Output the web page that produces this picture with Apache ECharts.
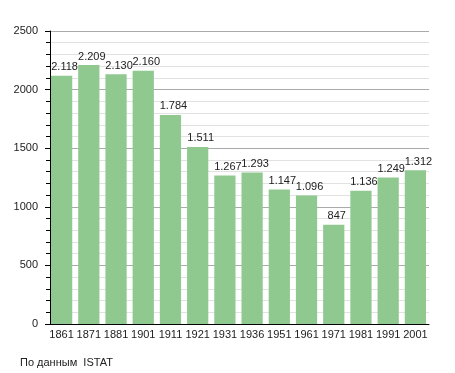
<!DOCTYPE html>
<html>
<head>
<meta charset="utf-8">
<script src="https://cdn.jsdelivr.net/npm/echarts@6/dist/echarts.min.js"></script>
<style>html,body{margin:0;padding:0;background:#fff;}#c{width:455px;height:373px;}</style>
</head>
<body>
<div id="c"></div>
<script>
const years = ['1861','1871','1881','1901','1911','1921','1931','1936','1951','1961','1971','1981','1991','2001'];
const population = [2118, 2209, 2130, 2160, 1784, 1511, 1267, 1293, 1147, 1096, 847, 1136, 1249, 1312];
const yTicks = [0, 500, 1000, 1500, 2000, 2500];
const sourceText = 'По данным  ISTAT';

function fmt(v){ return String(v).replace(/\B(?=(\d{3})+(?!\d))/g, '.'); }

const chart = echarts.init(document.getElementById('c'), null, {renderer:'canvas'});
chart.setOption({
  animation: false,
  textStyle: {fontFamily: 'Liberation Sans, Arial, sans-serif'},
  grid: {left: 48, right: 26, top: 31, bottom: 49, containLabel: false},
  graphic: [{
    type: 'text', left: 20, top: 357,
    style: {text: sourceText, fontSize: 11, fill: '#222', fontFamily: 'Liberation Sans, Arial, sans-serif'}
  }],
  xAxis: {
    type: 'category',
    data: years,
    boundaryGap: true,
    axisLine: {show: true, lineStyle: {color: '#000', width: 1}},
    axisTick: {show: false},
    axisLabel: {color: '#222', fontSize: 11, margin: 5, interval: 0}
  },
  yAxis: {
    type: 'value',
    min: yTicks[0], max: yTicks[yTicks.length-1], interval: 500,
    offset: -2,
    axisLine: {show: true, lineStyle: {color: '#000', width: 1}},
    axisTick: {show: true, length: 5, lineStyle: {color: '#000'}},
    minorTick: {show: true, splitNumber: 5, length: 4, lineStyle: {color: '#000'}},
    splitLine: {show: true, lineStyle: {color: '#aaaaaa', width: 1}},
    minorSplitLine: {show: true, lineStyle: {color: '#e2e2e2', width: 1}},
    axisLabel: {color: '#222', fontSize: 11, margin: 12, formatter: v => String(v)}
  },
  series: [{
    type: 'bar',
    data: population,
    barCategoryGap: '22%',
    itemStyle: {color: '#8fc98f'},
    label: {
      show: true, position: 'top', distance: 3, offset: [3, 0],
      color: '#222', fontSize: 11,
      formatter: p => fmt(p.value)
    }
  }]
});
</script>
</body>
</html>
